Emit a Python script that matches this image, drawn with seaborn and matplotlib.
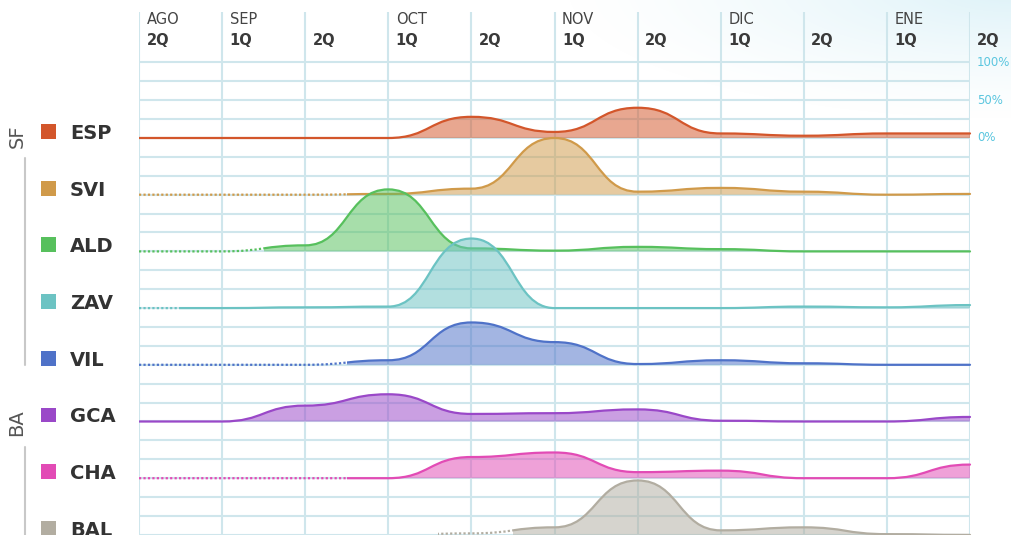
import numpy as np
import matplotlib
matplotlib.use('Agg')
import matplotlib.pyplot as plt
import matplotlib.transforms as mtransforms
from matplotlib.path import Path
from matplotlib.patches import PathPatch, Rectangle
import seaborn as sns

# Datos (porcentaje por quincena)
months = ['AGO', 'SEP', '', 'OCT', '', 'NOV', '', 'DIC', '', 'ENE', '']
halves = ['2Q', '1Q', '2Q', '1Q', '2Q', '1Q', '2Q', '1Q', '2Q', '1Q', '2Q']
names = ['ESP', 'SVI', 'ALD', 'ZAV', 'VIL', 'GCA', 'CHA', 'BAL']
esp = [0, 0, 0, 0, 28, 8, 40, 6, 3, 6, 6]
svi = [0, 0, 0, 1, 8, 75, 4, 9, 4, 0, 1]
ald = [0, 0, 8, 82, 4, 1, 6, 3, 0, 0, 0]
zav = [0, 0, 1, 2, 92, 0, 0, 0, 2, 1, 4]
vil = [0, 0, 0, 6, 56, 30, 1, 6, 2, 0, 0]
gca = [0, 0, 21, 36, 10, 11, 16, 1, 0, 0, 6]
cha = [0, 0, 0, 0, 28, 34, 8, 10, 0, 0, 18]
bal = [0, 0, 0, 0, 2, 10, 72, 6, 10, 1, 0]
dotted_from = [0, 0, 0, 0, 0, 0, 0, 3.6]
dotted_until = [0, 2.5, 1.5, 0.5, 2.5, 0, 2.5, 4.5]
groups = ['SF', 'BA']
pct_ticks = [100, 50, 0]

series = [esp, svi, ald, zav, vil, gca, cha, bal]
colors = sns.color_palette(['#d3562b', '#d09a4a', '#57c05d', '#6cc3c3',
                            '#4f72c8', '#9a48c8', '#e24bb5', '#b2ada1'])

sns.set_theme(style='white')
plt.rcParams['font.family'] = ['DejaVu Sans']

W, H = 1011, 535
ppu = 0.756          # pixeles por punto porcentual
base_px = 138        # linea base de la primera fila
top_px = 12
ytop = (base_px - top_px) / ppu
ybot = -(H + 3 - base_px) / ppu
step = 75            # separacion entre filas (en %)

fig = plt.figure(figsize=(W / 100, H / 100), dpi=100, facecolor='white')

# fondo degradado arriba a la derecha
bg = fig.add_axes([0, 0, 1, 1], zorder=-5)
yy, xx = np.mgrid[0:H, 0:W]
d = np.sqrt(((xx - W) / 450.0) ** 2 + ((yy + 10) / 130.0) ** 2)
img = np.ones((H, W, 4))
img[..., :3] = [0.85, 0.945, 0.97]
img[..., 3] = np.clip(1 - d, 0, 1) ** 1.3 * 0.85
bg.imshow(img, extent=[0, W, H, 0], aspect='auto')
bg.set_xlim(0, W)
bg.set_ylim(H, 0)
bg.axis('off')

ax = fig.add_axes([139 / W, -3 / H, (970 - 139) / W, (H + 3 - top_px) / H])
ax.set_facecolor('none')
ax.set_xlim(0, 10)
ax.set_ylim(ybot, ytop)
ax.axis('off')

grid_c = '#cfe6ec'
ax.vlines(range(11), ybot, ytop, color=grid_c, lw=1.5, zorder=1)
ax.hlines(np.arange(100, ybot, -25), 0, 10, color=grid_c, lw=1.5, zorder=1)

# encabezado
for i in range(11):
    if months[i]:
        ax.text(i + 0.09, 150.4, months[i], fontsize=10.5, color='#444444',
                va='baseline', ha='left', clip_on=False)
    xoff = 0.09 if i < 10 else 0.085
    ax.text(i + xoff, 122.9, halves[i], fontsize=10.5, fontweight='bold',
            color='#3a3a3a', va='baseline', ha='left', clip_on=False)

for p in pct_ticks:
    ax.text(10.085, p, f'{p}%', fontsize=8.5, color='#5bc6df',
            va='center', ha='left', clip_on=False)


def bump(xs, ys):
    verts = [(xs[0], ys[0])]
    codes = [Path.MOVETO]
    for i in range(1, len(xs)):
        xm = (xs[i - 1] + xs[i]) / 2
        verts += [(xm, ys[i - 1]), (xm, ys[i]), (xs[i], ys[i])]
        codes += [Path.CURVE4] * 3
    return verts, codes


blend = mtransforms.blended_transform_factory(fig.transFigure, ax.transData)
xs = np.arange(11)

for r, (name, vals, col) in enumerate(zip(names, series, colors)):
    base = -step * r
    ys = base + np.array(vals, dtype=float)
    verts, codes = bump(xs, ys)
    du = dotted_until[r]
    df = dotted_from[r]

    fverts = verts + [(xs[-1], base), (xs[0], base), (xs[0], base)]
    fcodes = codes + [Path.LINETO, Path.LINETO, Path.CLOSEPOLY]
    fill = PathPatch(Path(fverts, fcodes), fc=col, ec='none', alpha=0.52,
                     zorder=2 + r)
    ax.add_patch(fill)
    fill.set_clip_path(Rectangle((du, ybot), 10.5 - du, ytop - ybot,
                                 transform=ax.transData))

    line = PathPatch(Path(verts, codes), fill=False, ec=col, lw=1.6,
                     zorder=2.5 + r, capstyle='round')
    ax.add_patch(line)
    line.set_clip_path(Rectangle((du, ybot), 10.5 - du, ytop - ybot,
                                 transform=ax.transData))
    if du > 0:
        dots = PathPatch(Path(verts, codes), fill=False, ec=col, lw=1.6,
                         linestyle=(0, (1, 1)), zorder=2.5 + r)
        ax.add_patch(dots)
        dots.set_clip_path(Rectangle((df - 0.5 if df == 0 else df, ybot),
                                     du - df + (0.5 if df == 0 else 0),
                                     ytop - ybot, transform=ax.transData))

    # leyenda de la fila
    ax.add_patch(Rectangle((41 / W, base - 1.3), 15 / W, 19.8, transform=blend,
                           fc=col, ec='none', clip_on=False))
    ax.text(70 / W, base - 1.3, name, transform=blend, fontsize=14,
            fontweight='bold', color='#333333', va='baseline', ha='left')

# grupos
ax.text(17 / W, 2, groups[0], transform=blend, rotation=90, fontsize=14,
        color='#555555', va='center', ha='center')
ax.plot([25 / W, 25 / W], [(base_px - 158) / ppu, (base_px - 365) / ppu],
        transform=blend, color='#c8c8c8', lw=1.5, clip_on=False)
ax.text(17 / W, -376, groups[1], transform=blend, rotation=90, fontsize=14,
        color='#555555', va='center', ha='center')
ax.plot([25 / W, 25 / W], [(base_px - 447) / ppu, ybot],
        transform=blend, color='#c8c8c8', lw=1.5, clip_on=False)

fig.savefig('out.png', dpi=100)
